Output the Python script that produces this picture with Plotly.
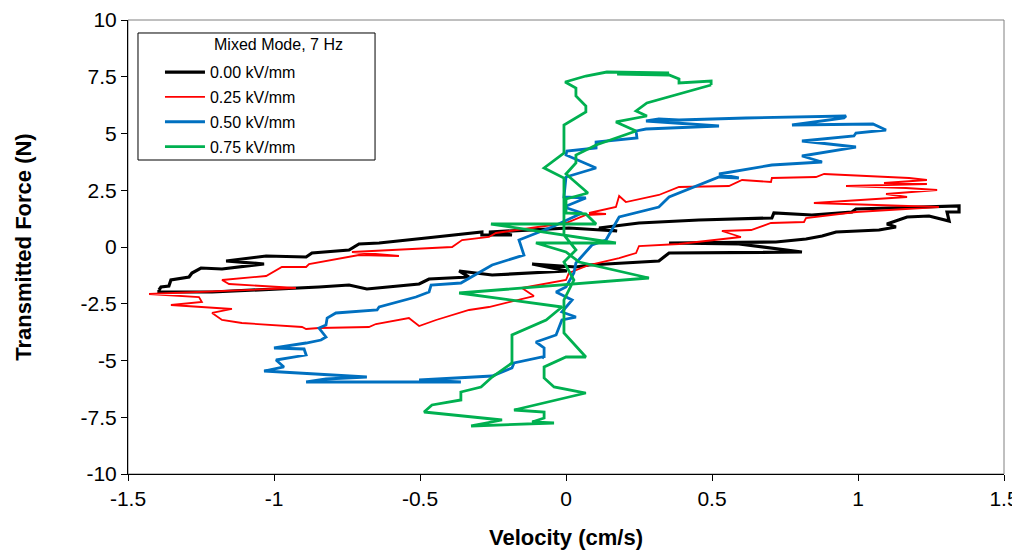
import plotly.graph_objects as go

# ---- data (velocity cm/s, transmitted force N) ----
black_v = [-1.394, -1.387, -1.360, -1.353, -1.291, -1.281, -1.250, -1.178, -1.034, -1.164,
           -1.027, -0.890, -0.870, -0.743, -0.709, -0.640, -0.479, -0.288, -0.288, -0.185,
           -0.264, 0.010, 0.175, 0.113, 0.250, 0.318, 0.455, 0.705, 0.712, 0.842,
           0.979, 0.993, 1.277, 1.346, 1.346, 1.305, 1.312, 1.243, 1.168, 1.099,
           1.130, 1.072, 0.925, 0.877, 0.822, 0.719, 0.353, 0.592, 0.808, 0.353,
           0.318, 0.079, 0.034, -0.116, 0.003, -0.253, -0.366, -0.332, -0.469, -0.503,
           -0.682, -0.743, -0.846, -1.086, -1.212, -1.394, -1.394]
black_f = [-1.894, -1.762, -1.718, -1.454, -1.322, -1.145, -0.925, -0.969, -0.749, -0.617,
           -0.396, -0.441, -0.264, -0.132, 0.132, 0.176, 0.396, 0.661, 0.529, 0.529,
           0.661, 0.837, 0.705, 0.837, 1.057, 1.101, 1.189, 1.278, 1.498, 1.410,
           1.542, 1.674, 1.762, 1.806, 1.542, 1.542, 1.145, 1.366, 1.322, 1.013,
           0.881, 0.749, 0.661, 0.485, 0.352, 0.220, 0.176, 0.132, -0.220, -0.264,
           -0.617, -0.793, -0.881, -0.749, -1.057, -1.233, -1.057, -1.322, -1.410, -1.630,
           -1.850, -1.674, -1.762, -1.894, -1.982, -1.982, -1.894]

red_v = [-1.428, -0.925, -1.154, -1.178, -1.027, -0.973, -0.890, -0.880, -0.709, -0.572,
         -0.733, -0.390, -0.356, -0.264, -0.240, 0.000, 0.068, 0.137, 0.079, 0.171,
         0.182, 0.205, 0.318, 0.387, 0.558, 0.603, 0.702, 0.705, 0.856, 0.884,
         1.175, 1.236, 1.089, 1.236, 0.959, 1.164, 1.271, 1.096, 1.168, 0.849,
         1.277, 0.993, 0.822, 0.815, 0.702, 0.634, 0.534, 0.599, 0.387, 0.250,
         0.240, 0.182, 0.079, 0.010, 0.000, -0.151, -0.110, -0.264, -0.332, -0.445,
         -0.503, -0.538, -0.651, -0.675, -0.846, -0.890, -0.904, -1.110, -1.178, -1.212,
         -1.144, -1.353, -1.247, -1.257, -1.428]
red_f = [-2.070, -1.806, -1.630, -1.454, -1.278, -0.881, -0.881, -0.749, -0.352, -0.396,
         -0.220, 0.000, 0.308, 0.441, 0.617, 1.057, 1.410, 1.454, 1.498, 1.762,
         2.247, 1.982, 2.291, 2.643, 2.687, 2.952, 2.863, 3.040, 3.084, 3.216,
         3.040, 2.952, 2.819, 2.775, 2.687, 2.599, 2.511, 2.335, 2.203, 1.938,
         1.762, 1.542, 1.278, 1.101, 1.057, 0.749, 0.705, 0.441, 0.132, 0.044,
         -0.264, -0.485, -0.793, -1.145, -1.454, -1.806, -2.159, -2.643, -2.775, -3.216,
         -3.480, -3.128, -3.392, -3.524, -3.568, -3.612, -3.524, -3.348, -3.216, -2.907,
         -2.731, -2.555, -2.423, -2.203, -2.070]

blue_v = [-0.075, -0.075, -0.103, -0.034, -0.014, 0.034, -0.014, 0.021, -0.034, 0.000,
          0.027, 0.034, 0.089, 0.137, 0.182, 0.318, 0.353, 0.524, 0.592, 0.524,
          0.705, 0.877, 0.808, 0.993, 0.808, 0.986, 0.993, 1.096, 1.051, 0.774,
          0.952, 0.959, 0.616, 0.387, 0.318, 0.274, 0.524, 0.274, 0.240, 0.243,
          0.103, 0.103, 0.003, 0.000, 0.103, 0.000, -0.007, 0.068, -0.007, 0.055,
          -0.048, -0.161, -0.144, -0.253, -0.360, -0.462, -0.469, -0.514, -0.640, -0.647,
          -0.788, -0.818, -0.822, -0.846, -0.822, -0.839, -0.890, -1.000, -0.897, -0.890,
          -0.993, -0.966, -1.034, -0.812, -0.682, -0.822, -0.890, -0.469, -0.360, -0.503,
          -0.253, -0.185, -0.178, -0.082, -0.075]
blue_f = [-4.890, -4.449, -4.185, -3.877, -3.216, -3.084, -2.863, -2.335, -1.982, -1.762,
          -1.145, -0.705, 0.088, 0.308, 1.322, 1.762, 2.203, 3.084, 3.040, 3.216,
          3.612, 3.744, 4.009, 4.405, 4.670, 4.890, 5.022, 5.154, 5.419, 5.374,
          5.683, 5.771, 5.683, 5.595, 5.639, 5.551, 5.330, 5.198, 5.110, 4.802,
          4.626, 4.361, 4.229, 4.053, 3.480, 3.084, 2.203, 2.159, 1.762, 1.498,
          0.881, 0.308, -0.352, -0.793, -1.586, -1.674, -1.982, -2.203, -2.643, -2.775,
          -2.907, -3.128, -3.436, -3.568, -3.965, -4.097, -4.229, -4.449, -4.493, -4.758,
          -4.978, -5.286, -5.463, -5.639, -5.727, -5.815, -5.947, -5.947, -5.947, -5.859,
          -5.683, -5.330, -5.110, -4.846, -4.890]

green_v = [0.497, 0.277, 0.240, 0.277, 0.171, 0.240, 0.103, 0.034, 0.034, 0.000,
           0.075, 0.000, 0.000, 0.068, 0.103, -0.257, 0.171, -0.103, 0.000, 0.045,
           0.284, -0.366, -0.014, -0.068, -0.185, -0.185, -0.253, -0.291, -0.360, -0.360,
           -0.459, -0.486,
           -0.219, -0.325, -0.041, -0.116, -0.075, -0.075, -0.178, 0.068, -0.041, -0.075,
           -0.075, 0.000, 0.068, -0.007, -0.007, 0.027, -0.007, 0.034, -0.007, -0.007,
           -0.007, -0.075, -0.007, -0.007, 0.068, 0.068, 0.034, 0.034, -0.003, 0.068,
           0.140, 0.353, 0.175, 0.353, 0.387, 0.387, 0.497, 0.497]
green_f = [7.137, 6.344, 5.991, 5.771, 5.507, 5.110, 4.493, 4.053, 3.700, 3.216,
           2.379, 2.115, 1.498, 1.454, 1.013, 1.013, 0.176, 0.176, -0.220, -0.661,
           -1.366, -2.026, -2.643, -3.216, -3.877, -5.110, -5.727, -6.167, -6.388, -6.740,
           -6.960, -7.269,
           -7.621, -7.885, -7.753, -7.709, -7.533, -7.269, -7.181, -6.432, -6.167, -5.771,
           -5.286, -4.846, -4.846, -3.789, -2.335, -1.454, -0.661, -0.132, 0.529, 2.203,
           3.040, 3.480, 4.141, 5.374, 5.947, 6.211, 6.652, 7.004, 7.269, 7.533,
           7.709, 7.665, 7.621, 7.577, 7.401, 7.225, 7.313, 7.137]

series_names = ["0.00 kV/mm", "0.25 kV/mm", "0.50 kV/mm", "0.75 kV/mm"]
legend_title = "Mixed Mode, 7 Hz"
x_ticks = [-1.5, -1, -0.5, 0, 0.5, 1, 1.5]
x_ticklabels = ["-1.5", "-1", "-0.5", "0", "0.5", "1", "1.5"]
y_ticks = [10, 7.5, 5, 2.5, 0, -2.5, -5, -7.5, -10]
y_ticklabels = ["10", "7.5", "5", "2.5", "0", "-2.5", "-5", "-7.5", "-10"]

colors = ["#000000", "#FF0000", "#0070C0", "#00B050"]
widths = [3.2, 1.8, 2.8, 2.8]
data = [(black_v, black_f), (red_v, red_f), (blue_v, blue_f), (green_v, green_f)]

fig = go.Figure()
for (vx, fy), name, c, w in zip(data, series_names, colors, widths):
    fig.add_trace(go.Scatter(x=vx, y=fy, mode="lines", name=name,
                             legendgroup=name,
                             line=dict(color=c, width=w)))

font_family = "Liberation Sans, Arial, sans-serif"
# page body adds an 8px offset, so the figure is sized to sit in the 1020x553 window
fig.update_layout(
    width=1012, height=545,
    margin=dict(l=120, r=16, t=12, b=79, autoexpand=False),
    paper_bgcolor="white", plot_bgcolor="white",
    font=dict(family=font_family, color="#000000"),
    showlegend=True,
    legend=dict(
        x=0.0365, y=0.9224, xanchor="left", yanchor="top",
        bgcolor="rgba(0,0,0,0)", borderwidth=0,
        font=dict(size=16, family=font_family),
        tracegroupgap=1, itemwidth=40,
    ),
    xaxis=dict(
        range=[-1.5, 1.5], tickvals=x_ticks, ticktext=x_ticklabels,
        showgrid=False, zeroline=False, showline=True, linecolor="#000000", linewidth=1,
        ticks="outside", ticklen=6, tickcolor="#000000",
        tickfont=dict(size=21, family=font_family),
        title=dict(text="<b>Velocity (cm/s)</b>", font=dict(size=22, family=font_family), standoff=20),
    ),
    yaxis=dict(
        range=[-10, 10], tickvals=y_ticks, ticktext=y_ticklabels,
        showgrid=False, zeroline=False, showline=True, linecolor="#000000", linewidth=1,
        ticks="outside", ticklen=6, tickcolor="#000000",
        tickfont=dict(size=21, family=font_family),
        title=dict(text="<b>Transmitted Force (N)</b>", font=dict(size=22, family=font_family), standoff=42),
    ),
    shapes=[
        dict(type="rect", xref="paper", yref="paper", x0=0, y0=0, x1=1, y1=1,
             line=dict(color="#808080", width=1), layer="below"),
        dict(type="rect", xref="paper", yref="paper", x0=0.0114, y0=0.6916, x1=0.282, y1=0.9714,
             line=dict(color="#000000", width=1), fillcolor="white", layer="below"),
    ],
    annotations=[
        dict(text=legend_title, xref="paper", yref="paper", x=0.0959, y=0.945,
             xanchor="left", yanchor="middle", showarrow=False,
             font=dict(size=16, family=font_family, color="#000000")),
    ],
)

fig.write_html("out.html")
